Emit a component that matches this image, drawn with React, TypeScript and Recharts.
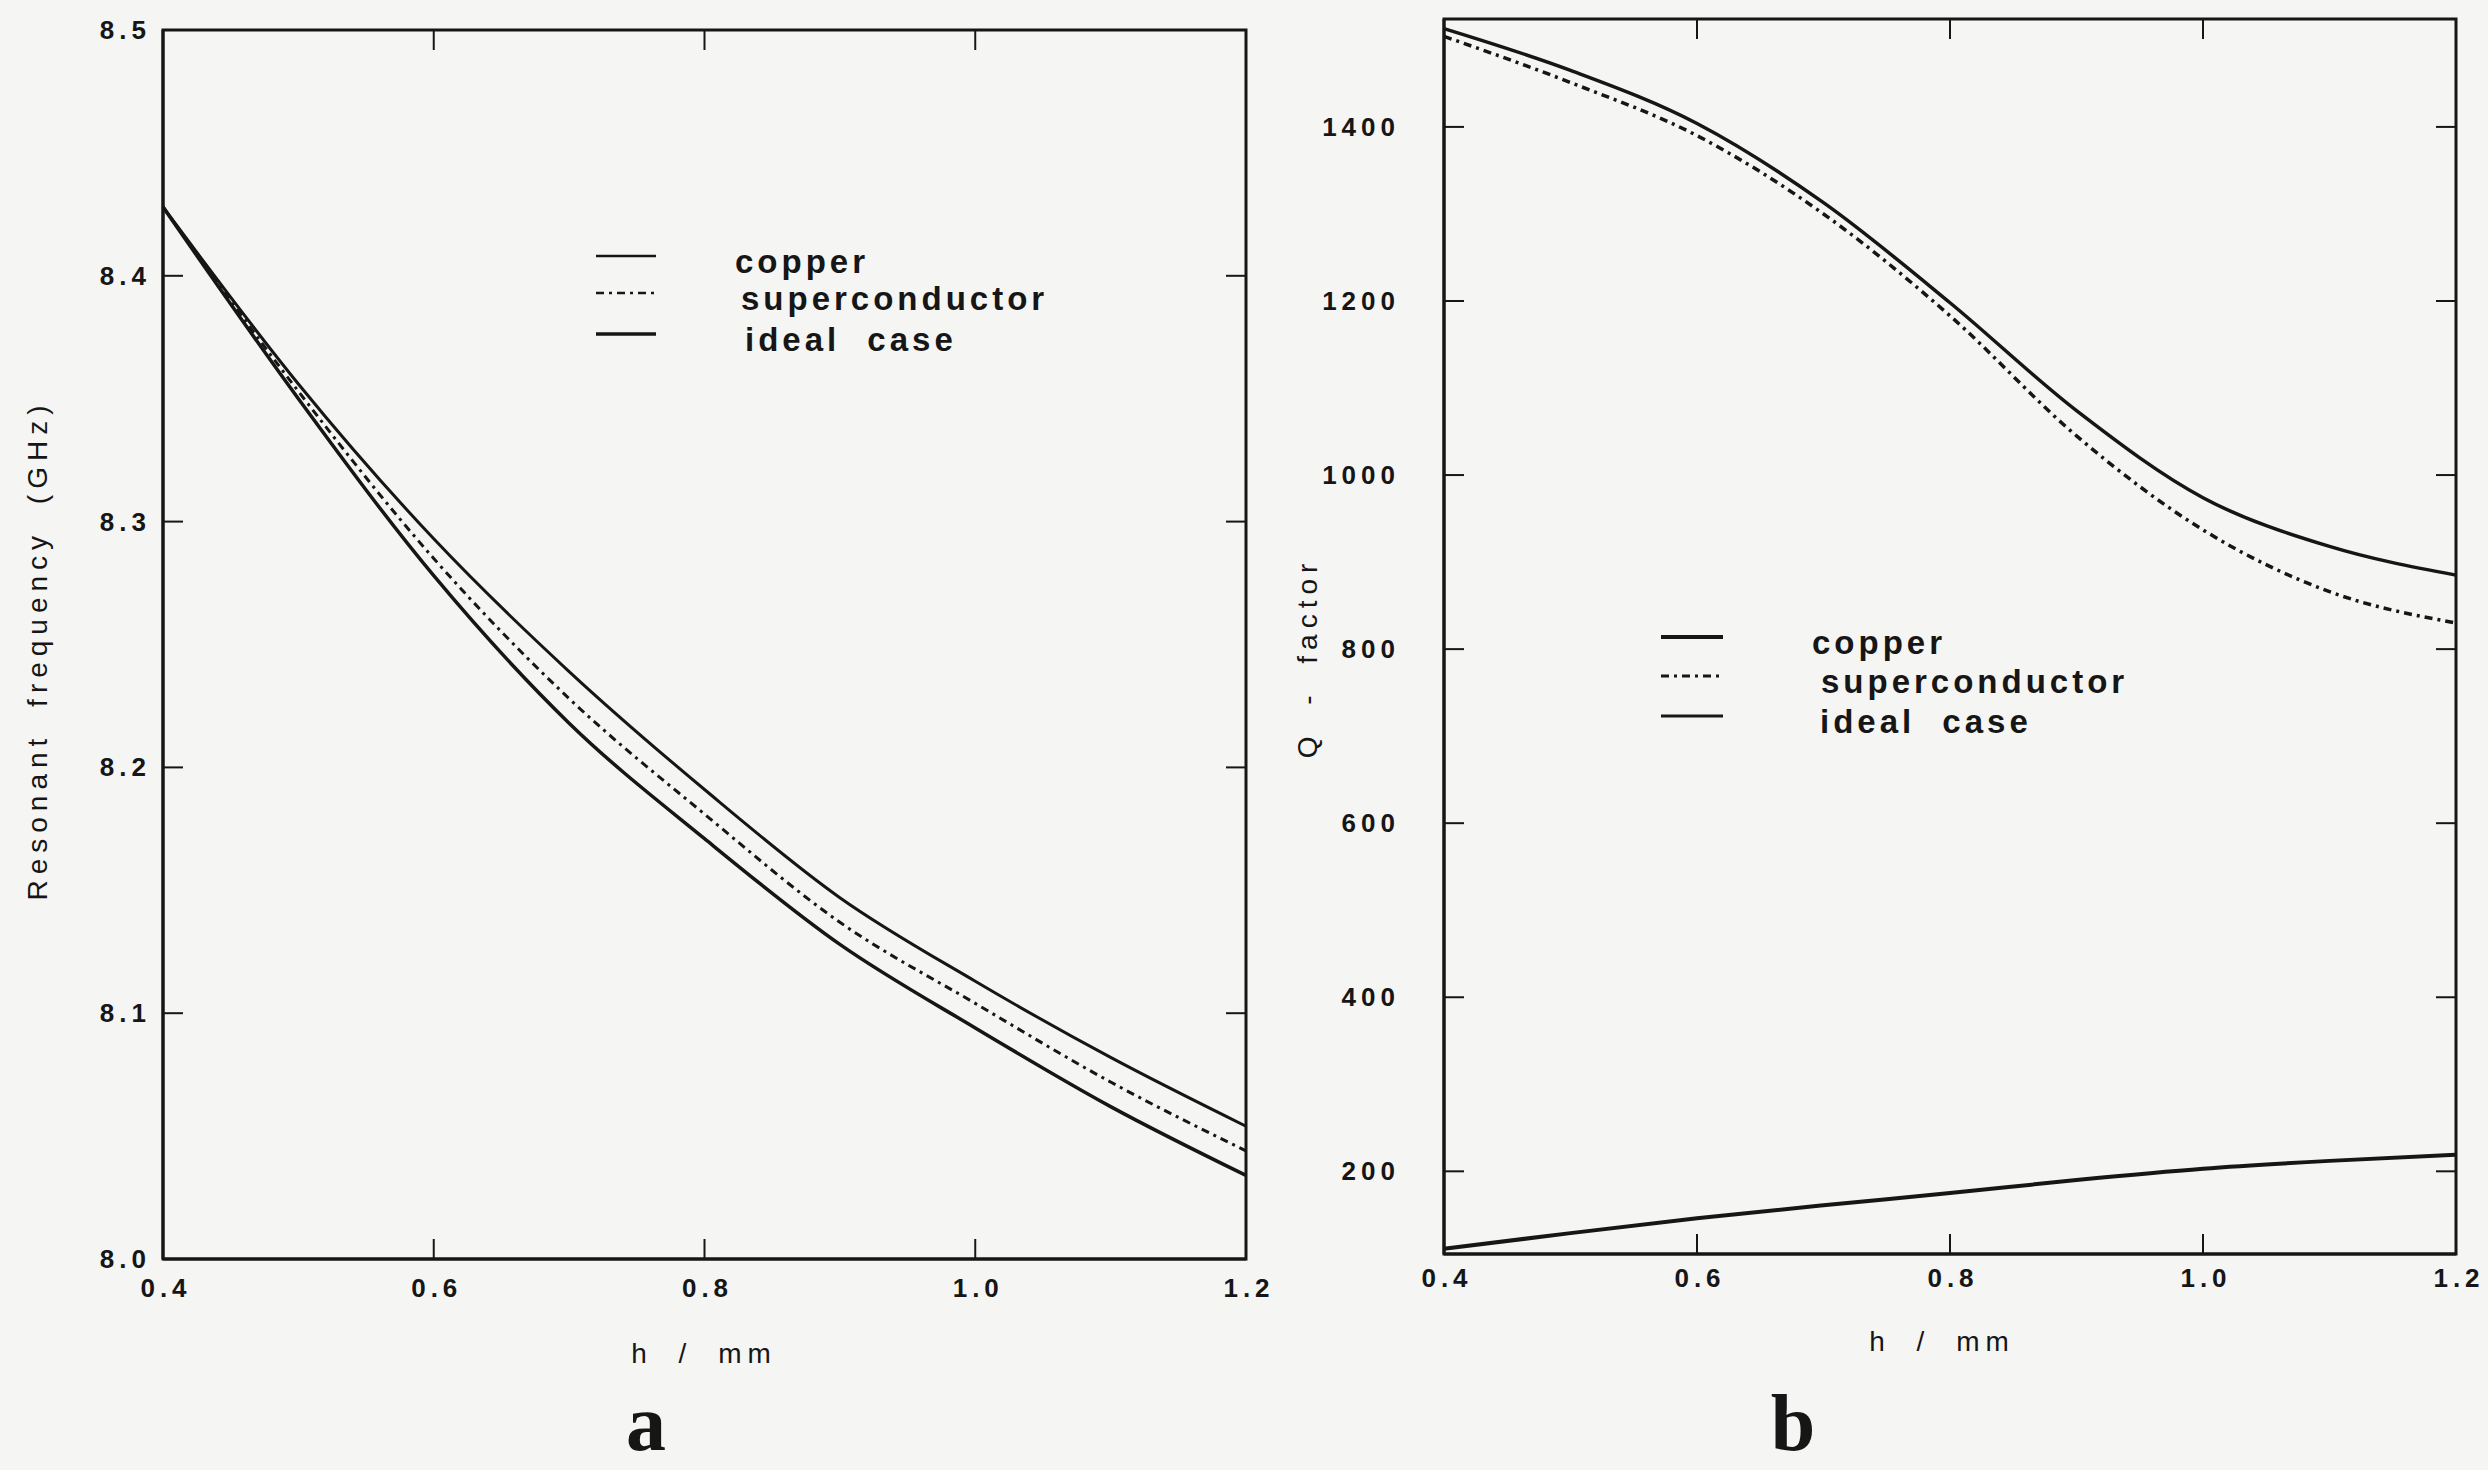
import React from 'react';
import { LineChart, Line, XAxis, YAxis, Legend, Label, ReferenceArea } from 'recharts';

// shared x values, h / mm
const hValues = [0.4, 0.5, 0.6, 0.7, 0.8, 0.9, 1.0, 1.1, 1.2];
const hTicks = [0.4, 0.6, 0.8, 1.0, 1.2];

// panel a: resonant frequency (GHz)
const freqTicks = [8.0, 8.1, 8.2, 8.3, 8.4, 8.5];
const freqIdeal = [8.428, 8.356, 8.293, 8.239, 8.191, 8.147, 8.113, 8.082, 8.054];
const freqSuper = [8.428, 8.353, 8.285, 8.228, 8.181, 8.137, 8.104, 8.072, 8.044];
const freqCopper = [8.428, 8.35, 8.278, 8.218, 8.171, 8.128, 8.094, 8.062, 8.034];

// panel b: Q - factor
const qTicks = [200, 400, 600, 800, 1000, 1200, 1400];
const qIdeal = [1513, 1465, 1404, 1313, 1198, 1074, 974, 918, 885];
const qSuper = [1504, 1451, 1390, 1300, 1183, 1045, 937, 866, 830];
const qCopper = [111, 129, 146, 161, 175, 190, 203, 212, 219];

const legendNames = ['copper', 'superconductor', 'ideal case'];

const freqData = hValues.map((h, i) => ({
  h,
  ideal: freqIdeal[i],
  superconductor: freqSuper[i],
  copper: freqCopper[i],
}));

const qData = hValues.map((h, i) => ({
  h,
  ideal: qIdeal[i],
  superconductor: qSuper[i],
  copper: qCopper[i],
}));

const FONT = '"Liberation Sans", Arial, Helvetica, sans-serif';
const INK = '#161616';
const PAPER = '#f5f5f4';
const TICK_LEN = 20;
const X_AXIS_H = 60;
const Y_AXIS_W = 140;
const DASH = '8 5 3 5';

type Box = { left: number; right: number; top: number; bottom: number };

// plot frames, in each chart's own coordinates
const boxA: Box = { left: 163, right: 1246, top: 30, bottom: 1259 };
const boxB: Box = { left: 184, right: 1196, top: 19, bottom: 1254 };
const A_W = 1300;
const B_LEFT = 1260;
const B_W = 1228;
const H = 1470;

const tickStyle: React.CSSProperties = {
  fontFamily: FONT,
  fontSize: 26,
  fontWeight: 700,
  letterSpacing: 5,
  fill: INK,
};

const titleStyle: React.CSSProperties = {
  fontFamily: FONT,
  fontSize: 28,
  letterSpacing: 6,
  wordSpacing: 12,
  fill: INK,
};

const legendStyle: React.CSSProperties = {
  fontFamily: FONT,
  fontSize: 33,
  fontWeight: 700,
  letterSpacing: 4,
  wordSpacing: 14,
  fill: INK,
};

const panelStyle: React.CSSProperties = {
  fontFamily: '"Liberation Serif", "Times New Roman", serif',
  fontSize: 80,
  fontWeight: 700,
  fill: INK,
};

const tickLine = { stroke: INK, strokeWidth: 2 };

// bottom ticks point up into the frame; the matching top ticks point down
const bottomTick = (box: Box, labelDy: number) => (props: any) => (
  <g>
    <line x1={props.x} x2={props.x} y1={box.bottom} y2={box.bottom - TICK_LEN} {...tickLine} />
    <line x1={props.x} x2={props.x} y1={box.top} y2={box.top + TICK_LEN} {...tickLine} />
    <text x={props.x + 3} y={box.bottom + labelDy} textAnchor="middle" dominantBaseline="central" style={tickStyle}>
      {Number(props.payload.value).toFixed(1)}
    </text>
  </g>
);

// left ticks point right; the matching right-side ticks point left
const leftTick = (box: Box, gap: number, fmt: (v: number) => string) => (props: any) => (
  <g>
    <line x1={box.left} x2={box.left + TICK_LEN} y1={props.y} y2={props.y} {...tickLine} />
    <line x1={box.right} x2={box.right - TICK_LEN} y1={props.y} y2={props.y} {...tickLine} />
    <text x={box.left - gap} y={props.y} textAnchor="end" dominantBaseline="central" style={tickStyle}>
      {fmt(Number(props.payload.value))}
    </text>
  </g>
);

type RowStyle = { width: number; dash?: string };

const LegendRows = ({
  styles,
  sampleW,
  textX,
  rowY,
}: {
  styles: RowStyle[];
  sampleW: number;
  textX: number[];
  rowY: number[];
}) => (
  <svg width={460} height={140} style={{ overflow: 'visible', display: 'block' }}>
    {legendNames.map((name, i) => (
      <g key={name}>
        <line
          x1={6}
          x2={6 + sampleW}
          y1={rowY[i]}
          y2={rowY[i]}
          stroke={INK}
          strokeWidth={styles[i].width}
          strokeDasharray={styles[i].dash}
        />
        <text x={textX[i]} y={rowY[i] + 5} dominantBaseline="central" style={legendStyle}>
          {name}
        </text>
      </g>
    ))}
  </svg>
);

const frameLine = { stroke: INK, strokeWidth: 3 };

const App: React.FC = () => {
  return (
    <div style={{ position: 'absolute', left: 0, top: 0, width: 2488, height: H, background: PAPER, overflow: 'hidden' }}>
      {/* a */}
      <div style={{ position: 'absolute', left: 0, top: 0 }}>
        <LineChart
          width={A_W}
          height={H}
          data={freqData}
          margin={{ top: boxA.top, right: A_W - boxA.right, bottom: H - boxA.bottom - X_AXIS_H, left: boxA.left - Y_AXIS_W }}
        >
          <XAxis
            dataKey="h"
            type="number"
            domain={[0.4, 1.2]}
            ticks={hTicks}
            interval={0}
            height={X_AXIS_H}
            tickSize={0}
            tickLine={false}
            axisLine={frameLine}
            tick={bottomTick(boxA, 29)}
          >
            <Label content={() => <text x={704} y={1353} textAnchor="middle" dominantBaseline="central" style={titleStyle}>h / mm</text>} />
            <Label content={() => <text x={646} y={1450} textAnchor="middle" style={panelStyle}>a</text>} />
          </XAxis>
          <YAxis
            type="number"
            domain={[8.0, 8.5]}
            ticks={freqTicks}
            interval={0}
            width={Y_AXIS_W}
            tickSize={0}
            tickLine={false}
            axisLine={frameLine}
            tick={leftTick(boxA, 12, (v) => v.toFixed(1))}
          >
            <Label
              content={() => (
                <text x={37} y={650} transform="rotate(-90 37 650)" textAnchor="middle" dominantBaseline="central" style={titleStyle}>
                  Resonant frequency (GHz)
                </text>
              )}
            />
          </YAxis>
          <ReferenceArea x1={0.4} x2={1.2} y1={8.0} y2={8.5} fill="none" stroke={INK} strokeWidth={3} ifOverflow="visible" />
          <Legend
            layout="horizontal"
            verticalAlign="middle"
            align="center"
            wrapperStyle={{ left: 590, top: 234, width: 460, height: 140 }}
            content={() => (
              <LegendRows
                styles={[{ width: 2.5 }, { width: 2.5, dash: DASH }, { width: 3.5 }]}
                sampleW={60}
                textX={[145, 151, 155]}
                rowY={[22, 59, 100]}
              />
            )}
          />
          <Line type="monotone" dataKey="ideal" stroke={INK} strokeWidth={3} dot={false} isAnimationActive={false} />
          <Line type="monotone" dataKey="superconductor" stroke={INK} strokeWidth={3} strokeDasharray={DASH} dot={false} isAnimationActive={false} />
          <Line type="monotone" dataKey="copper" stroke={INK} strokeWidth={3.5} dot={false} isAnimationActive={false} />
        </LineChart>
      </div>

      {/* b */}
      <div style={{ position: 'absolute', left: B_LEFT, top: 0 }}>
        <LineChart
          width={B_W}
          height={H}
          data={qData}
          margin={{ top: boxB.top, right: B_W - boxB.right, bottom: H - boxB.bottom - X_AXIS_H, left: boxB.left - Y_AXIS_W }}
        >
          <XAxis
            dataKey="h"
            type="number"
            domain={[0.4, 1.2]}
            ticks={hTicks}
            interval={0}
            height={X_AXIS_H}
            tickSize={0}
            tickLine={false}
            axisLine={frameLine}
            tick={bottomTick(boxB, 24)}
          >
            <Label content={() => <text x={682} y={1341} textAnchor="middle" dominantBaseline="central" style={titleStyle}>h / mm</text>} />
            <Label content={() => <text x={533} y={1450} textAnchor="middle" style={panelStyle}>b</text>} />
          </XAxis>
          <YAxis
            type="number"
            domain={[105, 1524]}
            ticks={qTicks}
            interval={0}
            width={Y_AXIS_W}
            tickSize={0}
            tickLine={false}
            axisLine={frameLine}
            tick={leftTick(boxB, 44, (v) => String(v))}
            allowDataOverflow
          >
            <Label
              content={() => (
                <text x={47} y={658} transform="rotate(-90 47 658)" textAnchor="middle" dominantBaseline="central" style={titleStyle}>
                  Q - factor
                </text>
              )}
            />
          </YAxis>
          <ReferenceArea x1={0.4} x2={1.2} y1={105} y2={1524} fill="none" stroke={INK} strokeWidth={3} ifOverflow="visible" />
          <Legend
            layout="horizontal"
            verticalAlign="middle"
            align="center"
            wrapperStyle={{ left: 395, top: 614, width: 460, height: 140 }}
            content={() => (
              <LegendRows
                styles={[{ width: 4 }, { width: 3, dash: DASH }, { width: 3 }]}
                sampleW={62}
                textX={[157, 166, 165]}
                rowY={[23, 62, 102]}
              />
            )}
          />
          <Line type="monotone" dataKey="ideal" stroke={INK} strokeWidth={3.5} dot={false} isAnimationActive={false} />
          <Line type="monotone" dataKey="superconductor" stroke={INK} strokeWidth={3.5} strokeDasharray={DASH} dot={false} isAnimationActive={false} />
          <Line type="monotone" dataKey="copper" stroke={INK} strokeWidth={4} dot={false} isAnimationActive={false} />
        </LineChart>
      </div>
    </div>
  );
};

export default App;
